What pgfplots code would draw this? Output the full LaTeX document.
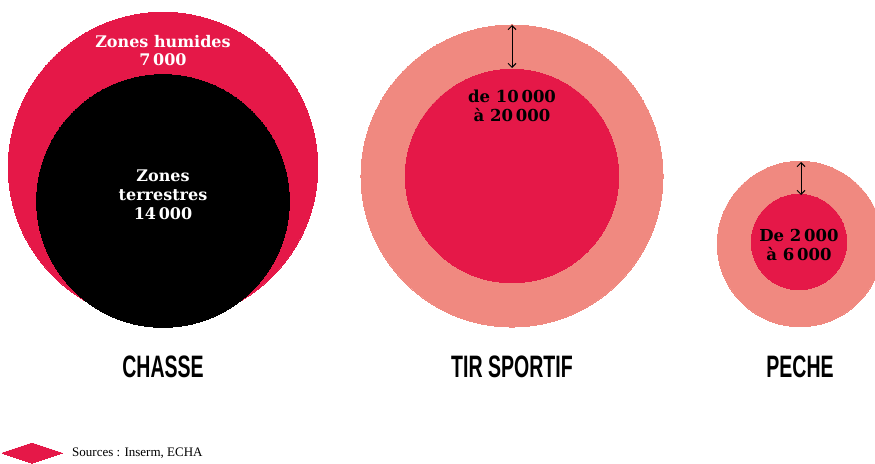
\documentclass[border=0pt]{standalone}
\usepackage{pgfplots}
\pgfplotsset{compat=1.18}
\usepackage{fontspec}
\usetikzlibrary{arrows.meta}
\setmainfont{Liberation Serif}
\newfontfamily\slab{DejaVu Serif}
\newfontfamily\heavy{Liberation Sans}
\definecolor{cRed}{RGB}{229,24,72}
\definecolor{cSalmon}{RGB}{240,137,128}
% radius (pt) = k * sqrt(value in thousands)
\newcommand\rk{33.77}

\begin{document}
\begin{tikzpicture}
\begin{axis}[
  scale only axis, width=875pt, height=463pt,
  xmin=0, xmax=875, ymin=0, ymax=463, y dir=reverse,
  hide axis, clip marker paths=true,
]
% TIR SPORTIF: 10 000 to 20 000
\addplot[only marks, mark=*, color=cSalmon, mark size={\rk*sqrt(20)}, mark options={draw=cSalmon, fill=cSalmon, line width=0pt}]
  coordinates {(512,176)};
\addplot[only marks, mark=*, color=cRed, mark size={\rk*sqrt(10)}, mark options={draw=cRed, fill=cRed, line width=0pt}]
  coordinates {(512,176)};
% PECHE: 2 000 to 6 000
\addplot[only marks, mark=*, color=cSalmon, mark size={\rk*sqrt(6)}, mark options={draw=cSalmon, fill=cSalmon, line width=0pt}]
  coordinates {(800,244)};
\addplot[only marks, mark=*, color=cRed, mark size={\rk*sqrt(2)}, mark options={draw=cRed, fill=cRed, line width=0pt}]
  coordinates {(799,242)};
% CHASSE: 7 000 wetlands + 14 000 land = 21 000
\addplot[only marks, mark=*, color=cRed, mark size={\rk*sqrt(21)}, mark options={draw=cRed, fill=cRed, line width=0pt}]
  coordinates {(163,167)};
\addplot[only marks, mark=*, color=black, mark size={\rk*sqrt(14)}, mark options={draw=black, fill=black, line width=0pt}]
  coordinates {(163,201)};
% arrows
\addplot[black, line width=1pt, {Straight Barb[length=4pt,width=8pt]}-{Straight Barb[length=4pt,width=8pt]}]
  coordinates {(512,25) (512,68)};
\addplot[black, line width=1pt, {Straight Barb[length=4pt,width=8pt]}-{Straight Barb[length=4pt,width=8pt]}]
  coordinates {(801,162) (801,195)};
% legend diamond
\addplot[only marks, mark=diamond*, color=cRed, mark size=10pt,
  mark options={xscale=4, draw=cRed, fill=cRed, line width=0pt}]
  coordinates {(32,453)};

\node[align=center, inner sep=0, text=white, font=\slab\bfseries\fontsize{16}{18}\selectfont]
  at (axis cs:163,51) {Zones humides\\7\,000};
\node[align=center, inner sep=0, text=white, font=\slab\bfseries\fontsize{16}{19}\selectfont]
  at (axis cs:163,195) {Zones\\terrestres\\14\,000};
\node[align=center, inner sep=0, text=black, font=\slab\bfseries\fontsize{16.5}{19}\selectfont]
  at (axis cs:512,106) {de 10\,000\\à 20\,000};
\node[align=center, inner sep=0, text=black, font=\slab\bfseries\fontsize{16.5}{19}\selectfont]
  at (axis cs:799,245) {De 2\,000\\à 6\,000};

\node[inner sep=0] at (axis cs:163,367) {\scalebox{0.63}[1]{\heavy\bfseries\fontsize{31}{31}\selectfont CHASSE}};
\node[inner sep=0] at (axis cs:512,367) {\scalebox{0.63}[1]{\heavy\bfseries\fontsize{31}{31}\selectfont TIR SPORTIF}};
\node[inner sep=0] at (axis cs:800,367) {\scalebox{0.63}[1]{\heavy\bfseries\fontsize{31}{31}\selectfont PECHE}};
\node[anchor=west, inner sep=0, font=\fontsize{13}{13}\selectfont] at (axis cs:72,453) {Sources : Inserm, ECHA};
\end{axis}
\pgfresetboundingbox
\path[use as bounding box] (current axis.south west) rectangle (current axis.north east);
\end{tikzpicture}
\end{document}
